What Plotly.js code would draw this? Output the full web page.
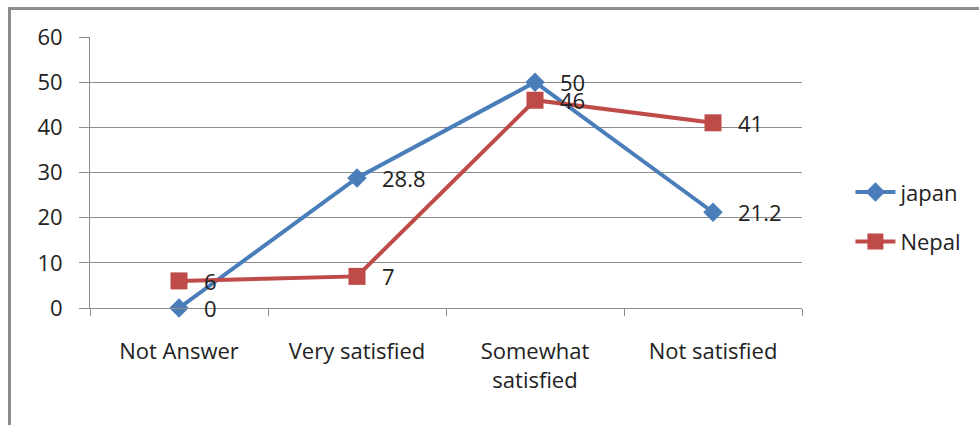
<!DOCTYPE html>
<html>
<head>
<meta charset="utf-8">
<script src="https://cdn.plot.ly/plotly-3.0.1.min.js"></script>
<style>
  html, body { margin: 0; padding: 0; background: #fff; }
  #frame { position: absolute; left: 8px; top: 7px; width: 1000px; height: 450px;
           border: 3px solid #8c8c8c; box-sizing: border-box; }
  #chart { position: absolute; left: 0; top: 0; width: 979px; height: 425px; }
</style>
</head>
<body>
<div id="frame"></div>
<div id="chart"></div>
<script>
// Satisfaction survey responses (percent) by country
const categories = ["Not Answer", "Very satisfied", "Somewhat satisfied", "Not satisfied"];
const tickLabels = ["Not Answer", "Very satisfied", "Somewhat<br>satisfied", "Not satisfied"];
const japan = [0, 28.8, 50, 21.2];
const nepal = [6, 7, 46, 41];
const yTicks = [0, 10, 20, 30, 40, 50, 60];

const font = { family: "'Open Sans', sans-serif", size: 22, color: "#222" };

const traces = [
  {
    name: "japan", x: categories, y: japan, type: "scatter", mode: "lines+markers",
    line: { color: "#4a7ebb", width: 4 },
    marker: { symbol: "diamond", size: 15, color: "#4a7ebb" },
    legendgroup: "a", cliponaxis: false
  },
  {
    name: "Nepal", x: categories, y: nepal, type: "scatter", mode: "lines+markers",
    line: { color: "#be4b48", width: 4 },
    marker: { symbol: "square", size: 17, color: "#be4b48" },
    legendgroup: "b", cliponaxis: false
  }
];

// value labels to the right of each point
function valueLabels(values) {
  return values.map((v, i) => ({
    x: categories[i], y: v, text: String(v), showarrow: false,
    xanchor: "left", yanchor: "middle", xshift: 23, font: font
  }));
}

const layout = {
  width: 979, height: 425,
  margin: { l: 90, r: 177, t: 37, b: 117 },
  paper_bgcolor: "rgba(0,0,0,0)", plot_bgcolor: "rgba(0,0,0,0)",
  font: font,
  showlegend: true,
  legend: { x: 1.068, xanchor: "left", y: 0.335, yanchor: "middle", itemwidth: 40,
            font: font, tracegroupgap: 18, bgcolor: "rgba(0,0,0,0)" },
  annotations: valueLabels(japan).concat(valueLabels(nepal)),
  xaxis: {
    type: "category", tickmode: "array", tickvals: categories, ticktext: tickLabels,
    tickson: "boundaries", ticks: "outside", ticklen: 7, tickcolor: "#8c8c8c", tickwidth: 1,
    showline: true, linecolor: "#8c8c8c", linewidth: 1, showgrid: false,
    ticklabelstandoff: 24, tickfont: font, range: [-0.5, 3.5], zeroline: false
  },
  yaxis: {
    range: [0, 60], tickmode: "array", tickvals: yTicks,
    ticks: "outside", ticklen: 10, tickcolor: "#8c8c8c", tickwidth: 1,
    showline: true, linecolor: "#8c8c8c", linewidth: 1,
    showgrid: true, gridcolor: "#8c8c8c", gridwidth: 1, zeroline: false,
    ticklabelstandoff: 12, tickfont: font
  }
};

Plotly.newPlot("chart", traces, layout, { displayModeBar: false, staticPlot: true });
</script>
</body>
</html>
